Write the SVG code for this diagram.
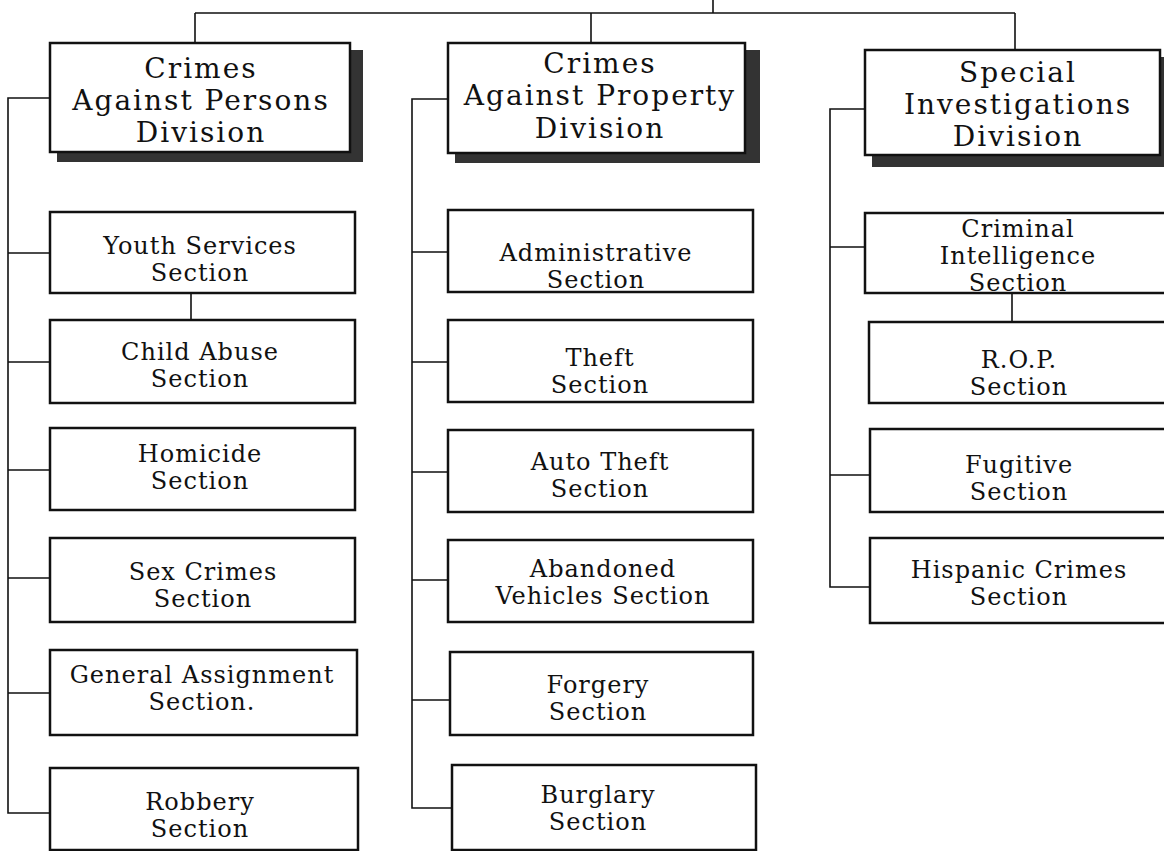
<svg xmlns="http://www.w3.org/2000/svg" width="1164" height="851" viewBox="0 0 1164 851">
<style>
.bg{fill:#fff}
.box{fill:#fff;stroke:#111;stroke-width:2.5}
.shadow{fill:#333}
.ln{fill:none;stroke:#111;stroke-width:1.6}
.dt{font-family:"DejaVu Serif","Liberation Serif",serif;font-size:28px;letter-spacing:2px;fill:#111;text-anchor:middle}
.st{font-family:"DejaVu Serif","Liberation Serif",serif;font-size:24px;letter-spacing:1px;fill:#111;text-anchor:middle}
</style>
<rect class="bg" x="0" y="0" width="1164" height="851"/>
<g id="connectors">
<path class="ln" d="M713 0V13M195 13H1015M195 13V43M591 13V43M1015 13V50"/>
<path class="ln" d="M50 98H8V813H50M8 253H50M8 362H50M8 470H50M8 578H50M8 693H50M191 293V320"/>
<path class="ln" d="M448 99H412V808H452M412 252H448M412 362H448M412 472H448M412 580H448M412 700H450"/>
<path class="ln" d="M865 109H830V587H870M830 247H865M830 475H870M1012 293V322"/>
</g>
<g id="div-persons">
<rect class="shadow" x="57" y="50" width="306" height="112"/>
<rect class="box" x="50" y="43" width="300" height="109"/>
<text class="dt" x="201" y="78">Crimes</text>
<text class="dt" x="201" y="110">Against Persons</text>
<text class="dt" x="201" y="142">Division</text>
</g>
<g id="div-property">
<rect class="shadow" x="455" y="50" width="305" height="113"/>
<rect class="box" x="448" y="43" width="297" height="110"/>
<text class="dt" x="600" y="73">Crimes</text>
<text class="dt" x="600" y="105">Against Property</text>
<text class="dt" x="600" y="138">Division</text>
</g>
<g id="div-special">
<rect class="shadow" x="872" y="57" width="300" height="110"/>
<rect class="box" x="865" y="50" width="295" height="105"/>
<text class="dt" x="1018" y="82">Special</text>
<text class="dt" x="1018" y="114">Investigations</text>
<text class="dt" x="1018" y="146">Division</text>
</g>
<g id="youth"><rect class="box" x="50" y="212" width="305" height="81"/><text class="st" x="200" y="254">Youth Services</text><text class="st" x="200" y="281">Section</text></g>
<g id="child"><rect class="box" x="50" y="320" width="305" height="83"/><text class="st" x="200" y="360">Child Abuse</text><text class="st" x="200" y="387">Section</text></g>
<g id="homicide"><rect class="box" x="50" y="428" width="305" height="82"/><text class="st" x="200" y="462">Homicide</text><text class="st" x="200" y="489">Section</text></g>
<g id="sex"><rect class="box" x="50" y="538" width="305" height="84"/><text class="st" x="203" y="580">Sex Crimes</text><text class="st" x="203" y="607">Section</text></g>
<g id="general"><rect class="box" x="50" y="650" width="307" height="85"/><text class="st" x="202" y="683">General Assignment</text><text class="st" x="202" y="710">Section.</text></g>
<g id="robbery"><rect class="box" x="50" y="768" width="308" height="82"/><text class="st" x="200" y="810">Robbery</text><text class="st" x="200" y="837">Section</text></g>
<g id="admin"><rect class="box" x="448" y="210" width="305" height="82"/><text class="st" x="596" y="261">Administrative</text><text class="st" x="596" y="288">Section</text></g>
<g id="theft"><rect class="box" x="448" y="320" width="305" height="82"/><text class="st" x="600" y="366">Theft</text><text class="st" x="600" y="393">Section</text></g>
<g id="auto"><rect class="box" x="448" y="430" width="305" height="82"/><text class="st" x="600" y="470">Auto Theft</text><text class="st" x="600" y="497">Section</text></g>
<g id="abandoned"><rect class="box" x="448" y="540" width="305" height="82"/><text class="st" x="603" y="577">Abandoned</text><text class="st" x="603" y="604">Vehicles Section</text></g>
<g id="forgery"><rect class="box" x="450" y="652" width="303" height="83"/><text class="st" x="598" y="693">Forgery</text><text class="st" x="598" y="720">Section</text></g>
<g id="burglary"><rect class="box" x="452" y="765" width="304" height="85"/><text class="st" x="598" y="803">Burglary</text><text class="st" x="598" y="830">Section</text></g>
<g id="intel"><rect class="box" x="865" y="213" width="305" height="80"/><text class="st" x="1018" y="237">Criminal</text><text class="st" x="1018" y="264">Intelligence</text><text class="st" x="1018" y="291">Section</text></g>
<g id="rop"><rect class="box" x="869" y="322" width="305" height="81"/><text class="st" x="1019" y="368">R.O.P.</text><text class="st" x="1019" y="395">Section</text></g>
<g id="fugitive"><rect class="box" x="870" y="429" width="305" height="83"/><text class="st" x="1019" y="473">Fugitive</text><text class="st" x="1019" y="500">Section</text></g>
<g id="hispanic"><rect class="box" x="870" y="538" width="305" height="85"/><text class="st" x="1019" y="578">Hispanic Crimes</text><text class="st" x="1019" y="605">Section</text></g>
</svg>
